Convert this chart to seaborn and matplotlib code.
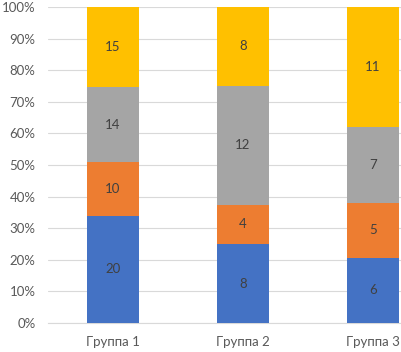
import matplotlib
matplotlib.use("Agg")
import matplotlib.pyplot as plt
import seaborn as sns
import pandas as pd
import numpy as np

groups = ["Группа 1", "Группа 2", "Группа 3"]
s1 = [20, 8, 6]
s2 = [10, 4, 5]
s3 = [14, 12, 7]
s4 = [15, 8, 11]
series = [s1, s2, s3, s4]
colors = ["#4472C4", "#ED7D31", "#A5A5A5", "#FFC000"]
yticks = [0, 10, 20, 30, 40, 50, 60, 70, 80, 90, 100]

sns.set_theme(style="white")
plt.rcParams["font.family"] = ["Lato", "DejaVu Sans"]

fig = plt.figure(figsize=(4.01, 3.52), dpi=100)
ax = fig.add_axes([48/401, 29/352, 390/401, 316/352])

totals = np.sum(np.array(series), axis=0)
bottom = np.zeros(len(groups))
for vals, col in zip(series, colors):
    pct = np.array(vals) / totals * 100
    df = pd.DataFrame({"g": groups, "v": pct})
    sns.barplot(data=df, x="g", y="v", bottom=bottom, color=col, width=0.4,
                ax=ax, saturation=1, zorder=3, linewidth=0, edgecolor="none")
    for i, (p, v) in enumerate(zip(pct, vals)):
        ax.text(i, bottom[i] + p / 2, str(v), ha="center", va="center",
                fontsize=9.5, color="#404040", zorder=4)
    bottom = bottom + pct

ax.set_xlim(-0.5, 2.5)
ax.set_ylim(0, 100)
ax.set_yticks(yticks)
ax.set_yticklabels([f"{t}%" for t in yticks])
ax.yaxis.grid(True, color="#D9D9D9", linewidth=0.8, zorder=0)
ax.set_axisbelow(True)
ax.set_xlabel("")
ax.set_ylabel("")
for s in ["top", "right", "left"]:
    ax.spines[s].set_visible(False)
ax.spines["bottom"].set_color("#D9D9D9")
ax.spines["bottom"].set_linewidth(0.8)
ax.tick_params(axis="both", length=0, labelsize=9.5, colors="#595959")
ax.tick_params(axis="x", pad=9)
ax.tick_params(axis="y", pad=9)

fig.savefig("out.png", dpi=100)
